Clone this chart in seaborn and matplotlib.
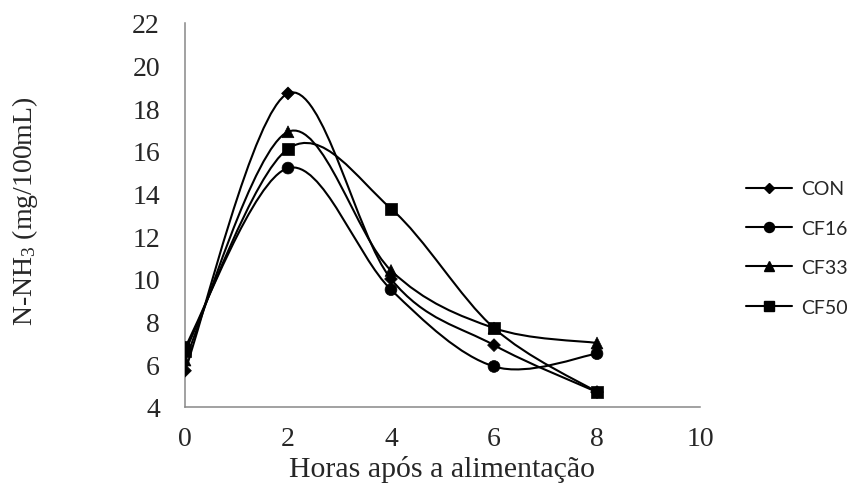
import numpy as np
import pandas as pd
import matplotlib
matplotlib.use('Agg')
import matplotlib.pyplot as plt
from matplotlib.path import Path
from matplotlib.patches import PathPatch
from matplotlib.lines import Line2D
import seaborn as sns

hours = [0, 2, 4, 6, 8]
con = [5.7, 18.7, 10.0, 6.9, 4.7]
cf16 = [6.8, 15.2, 9.5, 5.9, 6.5]
cf33 = [6.2, 16.9, 10.4, 7.7, 7.0]
cf50 = [6.6, 16.1, 13.3, 7.7, 4.7]
series_names = ['CON', 'CF16', 'CF33', 'CF50']
markers = {'CON': 'D', 'CF16': 'o', 'CF33': '^', 'CF50': 's'}
msizes = {'CON': 6.5, 'CF16': 8.5, 'CF33': 8.5, 'CF50': 8.5}

df = pd.DataFrame({'hora': hours * 4,
                   'nh3': con + cf16 + cf33 + cf50,
                   'trat': sum([[n] * len(hours) for n in series_names], [])})


def smooth_path(x, y):
    # Excel-like smoothed line: cubic bezier with catmull-rom control points
    pts = np.column_stack([x, y]).astype(float)
    verts = [pts[0]]
    codes = [Path.MOVETO]
    n = len(pts)
    for i in range(n - 1):
        p0 = pts[i - 1] if i > 0 else pts[i]
        p1 = pts[i]
        p2 = pts[i + 1]
        p3 = pts[i + 2] if i + 2 < n else pts[i + 1]
        c1 = p1 + (p2 - p0) / 6.0
        c2 = p2 - (p3 - p1) / 6.0
        verts += [c1, c2, p2]
        codes += [Path.CURVE4] * 3
    return Path(verts, codes)


sns.set_style('white')
plt.rcParams['font.family'] = ['Liberation Serif', 'DejaVu Serif']
plt.rcParams['mathtext.fontset'] = 'custom'
plt.rcParams['mathtext.rm'] = 'Liberation Serif'
plt.rcParams['mathtext.it'] = 'Liberation Serif:italic'

W, H = 853, 489
fig = plt.figure(figsize=(W / 100, H / 100), dpi=100)
ax = fig.add_axes([185 / W, 1 - 408 / H, 515 / W, 384 / H])

for name in series_names:
    sub = df[df['trat'] == name]
    ax.add_patch(PathPatch(smooth_path(sub['hora'], sub['nh3']), facecolor='none',
                           edgecolor='black', lw=1.5, zorder=2))

sns.scatterplot(data=df, x='hora', y='nh3', style='trat', markers=markers,
                size='trat', sizes={k: v ** 2 for k, v in msizes.items()},
                color='black', edgecolor='black', linewidth=0.5,
                legend=False, ax=ax, zorder=3)

ax.set_xlim(0, 10)
ax.set_ylim(4, 22)
ax.set_xticks(range(0, 11, 2))
ax.set_yticks(range(4, 23, 2))
for s in ['top', 'right']:
    ax.spines[s].set_visible(False)
for s in ['left', 'bottom']:
    ax.spines[s].set_color('#888888')
    ax.spines[s].set_linewidth(1.1)
ax.tick_params(axis='both', which='both', direction='out', length=5, width=1.1,
               color='#888888', labelsize=20)
ax.tick_params(axis='x', pad=9)
ax.tick_params(axis='y', pad=13)
ax.set_xlabel('Horas após a alimentação', fontsize=21.5)
ax.set_ylabel('N-NH$_3$ (mg/100mL)', fontsize=20)
ax.xaxis.set_label_coords(0.5, -(456 - 408) / 384)
ax.yaxis.set_label_coords((40 - 185) / 515, (408 - 211) / 384)

handles = [Line2D([0], [0], color='black', lw=1.5, marker=markers[n],
                  markersize=msizes[n] * 0.85) for n in series_names]
fig.legend(handles, series_names, loc='center left',
           bbox_to_anchor=(729 / W, 1 - 249 / H),
           frameon=False, handlelength=2.35, labelspacing=1.15, handletextpad=0.45,
           prop={'family': 'Lato', 'size': 14})

fig.savefig('out.png', dpi=100)
